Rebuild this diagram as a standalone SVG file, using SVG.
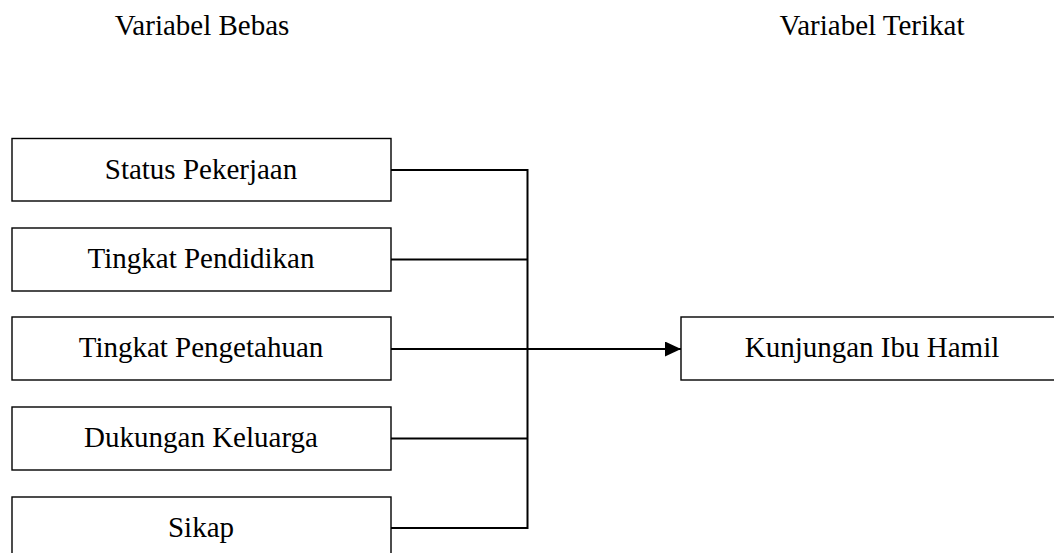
<svg xmlns="http://www.w3.org/2000/svg" width="1054" height="553" viewBox="0 0 1054 553">
  <style>
    .box { fill: #ffffff; stroke: #000000; stroke-width: 1.4; }
    .lbl { font-family: "Liberation Serif", "Times New Roman", serif; font-size: 29px; fill: #000000; text-anchor: middle; }
    .conn { fill: none; stroke: #000000; stroke-width: 2; }
  </style>
  <defs>
    <marker id="arrow" markerUnits="userSpaceOnUse" markerWidth="17" markerHeight="16" refX="16" refY="7.5" orient="auto">
      <polygon points="0,0 16,7.5 0,15" fill="#000000"/>
    </marker>
  </defs>
  <rect width="1054" height="553" fill="#ffffff"/>
  <text class="lbl" x="202" y="35">Variabel Bebas</text>
  <text class="lbl" x="872" y="35">Variabel Terikat</text>

  <g id="connectors">
    <path class="conn" d="M391,170 H527.5 M391,259.5 H527.5 M391,438.5 H527.5 M391,528 H527.5 M527.5,169 V529"/>
    <path class="conn" d="M391,349 H681" marker-end="url(#arrow)"/>
  </g>

  <g id="node-status-pekerjaan">
    <rect class="box" x="12" y="138.5" width="379" height="62.5"/>
    <text class="lbl" x="201" y="178.5">Status Pekerjaan</text>
  </g>
  <g id="node-tingkat-pendidikan">
    <rect class="box" x="12" y="228" width="379" height="63"/>
    <text class="lbl" x="201" y="268">Tingkat Pendidikan</text>
  </g>
  <g id="node-tingkat-pengetahuan">
    <rect class="box" x="12" y="317" width="379" height="63"/>
    <text class="lbl" x="201" y="357">Tingkat Pengetahuan</text>
  </g>
  <g id="node-dukungan-keluarga">
    <rect class="box" x="12" y="407" width="379" height="63"/>
    <text class="lbl" x="201" y="447">Dukungan Keluarga</text>
  </g>
  <g id="node-sikap">
    <rect class="box" x="12" y="497" width="379" height="63"/>
    <text class="lbl" x="201" y="537">Sikap</text>
  </g>
  <g id="node-kunjungan-ibu-hamil">
    <rect class="box" x="681" y="317" width="400" height="63"/>
    <text class="lbl" x="872" y="357">Kunjungan Ibu Hamil</text>
  </g>
</svg>
